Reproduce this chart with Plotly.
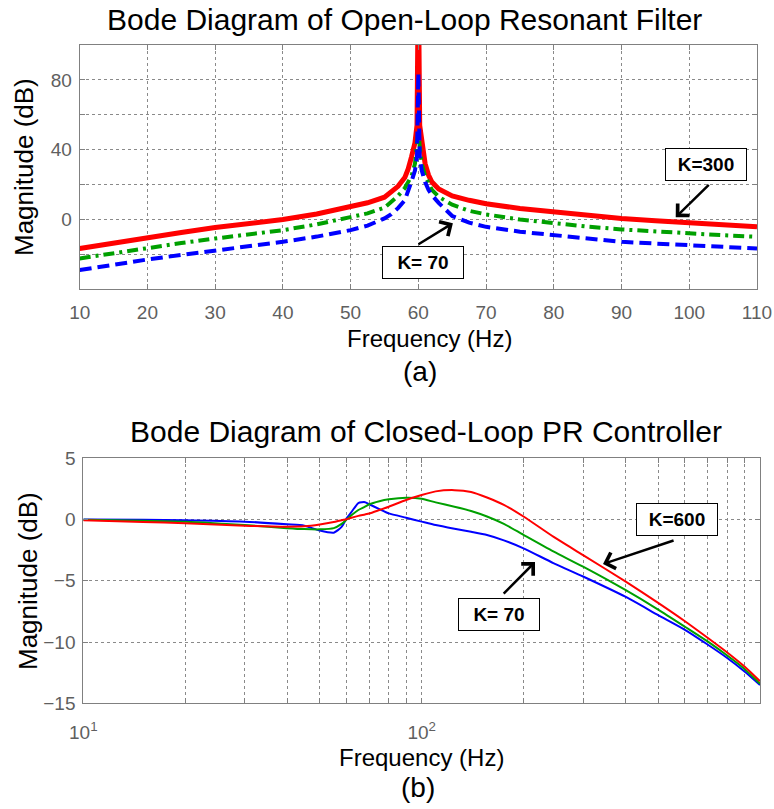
import plotly.graph_objects as go

# ---------------- data: (a) open-loop resonant filter ----------------
freq_a = [10, 15, 20, 25, 30, 35, 40, 45, 50, 52.5, 55, 56, 57, 58, 58.5, 59, 59.5, 59.8, 60,
          60.2, 60.5, 61, 61.5, 62, 63, 65, 67.5, 70, 75, 80, 85, 90, 95, 100, 105, 110]
mag_a_k300 = [-16.6, -13.3, -10.3, -7.4, -4.6, -2.3, 0.0, 3.2, 7.2, 9.6, 12.8, 15.5, 19.0, 24.0,
              29.0, 36.0, 44.0, 54.0, 140.0, 54.0, 44.0, 32.0, 25.5, 21.5, 17.5, 13.5, 11.0,
              9.0, 6.3, 4.3, 2.3, 0.6, -0.7, -1.9, -3.1, -4.2]
mag_a_kmid = [-22.3, -19.2, -16.2, -13.5, -10.9, -8.5, -6.1, -2.8, 1.1, 3.5, 6.8, 9.8, 13.5,
              18.0, 21.0, 25.0, 32.0, 42.0, 51.0, 42.0, 32.0, 25.0, 20.5, 17.0, 13.0, 8.5,
              5.0, 2.9, 0.0, -2.3, -4.1, -5.7, -6.9, -8.0, -9.0, -9.9]
mag_a_k70 = [-29.0, -25.8, -22.9, -20.3, -17.9, -15.4, -12.8, -9.8, -6.1, -3.5, 0.6, 3.0, 6.5,
             11.0, 16.0, 22.0, 28.0, 36.0, 84.0, 36.0, 28.0, 21.5, 17.0, 14.0, 9.5, 2.0,
             -1.8, -4.2, -7.0, -9.0, -11.0, -12.8, -13.8, -14.7, -15.7, -16.6]

# ---------------- data: (b) closed-loop PR controller ----------------
freq_b = [10, 15, 20, 30, 40, 45, 50, 55, 58, 60, 62, 65, 68, 70, 75, 80, 90, 100, 110,
          125, 140, 156, 175, 200, 245, 300, 400, 500, 600, 700, 800, 900, 1000]
mag_b_k70 = [0.0, -0.02, -0.05, -0.17, -0.39, -0.5, -0.9, -1.07, -0.6, 0.1, 0.6, 1.35, 1.42,
             1.25, 0.85, 0.5, 0.15, -0.17, -0.45, -0.75, -1.0, -1.26, -1.7, -2.35, -3.55,
             -4.65, -6.3, -7.8, -9.0, -10.2, -11.3, -12.4, -13.5]
mag_b_kmid = [-0.02, -0.1, -0.17, -0.44, -0.7, -0.78, -0.8, -0.7, -0.35, 0.0, 0.35, 0.78,
              1.05, 1.25, 1.5, 1.65, 1.78, 1.7, 1.4, 1.05, 0.7, 0.25, -0.35, -1.25, -2.6,
              -3.85, -5.75, -7.35, -8.75, -9.95, -11.1, -12.2, -13.4]
mag_b_k600 = [-0.05, -0.2, -0.3, -0.5, -0.58, -0.55, -0.4, -0.2, -0.05, 0.02, 0.15, 0.3, 0.42,
              0.5, 0.78, 1.05, 1.6, 2.0, 2.3, 2.4, 2.25, 1.8, 1.2, 0.25, -1.4, -2.9, -5.05,
              -6.8, -8.3, -9.65, -10.85, -12.0, -13.2]

# tick labels
xa_ticks = [10, 20, 30, 40, 50, 60, 70, 80, 90, 100, 110]
ya_ticks = [-40, -20, 0, 20, 40, 60, 80, 100]
ya_labels = ['', '', '0', '', '40', '', '80', '']
yb_ticks = [-15, -10, -5, 0, 5]
xb_ticks = [10, 20, 30, 40, 50, 60, 70, 80, 90, 100, 200, 300, 400, 500, 600, 700, 800, 900, 1000]
xb_labels = ['10<sup>1</sup>', '', '', '', '', '', '', '', '', '10<sup>2</sup>',
             '', '', '', '', '', '', '', '', '10<sup>3</sup>']

FONT = "Arial, 'Liberation Sans', Helvetica, sans-serif"
RED, GREEN, BLUE = '#ff0000', '#00a000', '#0000ff'
W, H = 774, 809

fig = go.Figure()

# (a)
fig.add_trace(go.Scatter(x=freq_a, y=mag_a_k300, mode='lines', xaxis='x', yaxis='y',
                         line=dict(color=RED, width=5)))
fig.add_trace(go.Scatter(x=freq_a, y=mag_a_kmid, mode='lines', xaxis='x', yaxis='y',
                         line=dict(color=GREEN, width=4, dash='11px,5px,3px,5px')))
fig.add_trace(go.Scatter(x=freq_a, y=mag_a_k70, mode='lines', xaxis='x', yaxis='y',
                         line=dict(color=BLUE, width=4, dash='12px,6px')))
# (b)
fig.add_trace(go.Scatter(x=freq_b, y=mag_b_k70, mode='lines', xaxis='x2', yaxis='y2',
                         line=dict(color=BLUE, width=2, shape='spline', smoothing=0.6)))
fig.add_trace(go.Scatter(x=freq_b, y=mag_b_kmid, mode='lines', xaxis='x2', yaxis='y2',
                         line=dict(color=GREEN, width=2, shape='spline', smoothing=0.6)))
fig.add_trace(go.Scatter(x=freq_b, y=mag_b_k600, mode='lines', xaxis='x2', yaxis='y2',
                         line=dict(color=RED, width=2, shape='spline', smoothing=0.6)))

axis_common = dict(showline=True, linecolor='#808080', linewidth=1, mirror='ticks',
                   ticks='inside', ticklen=5, tickcolor='#808080', automargin=False,
                   showgrid=True, gridcolor='#8a8a8a', griddash='dot', gridwidth=1,
                   zeroline=False, tickfont=dict(family=FONT, size=19, color='#5f5f5f'))

# pixel geometry of axes
a_left, a_right, a_top, a_bot = 79.7, 757, 45, 289.3
b_left, b_right, b_top, b_bot = 83.3, 760, 458.3, 703.3

fig.update_layout(
    width=W, height=H, margin=dict(l=0, r=0, t=0, b=0, autoexpand=False),
    paper_bgcolor='white', plot_bgcolor='white', showlegend=False,
    xaxis=dict(domain=[a_left / W, a_right / W], anchor='y', range=[10, 110],
               tickvals=xa_ticks, ticklabelstandoff=6, **axis_common),
    yaxis=dict(domain=[1 - a_bot / H, 1 - a_top / H], anchor='x', range=[-40, 100],
               tickvals=ya_ticks, ticktext=ya_labels, ticklabelstandoff=3, **axis_common),
    xaxis2=dict(domain=[b_left / W, b_right / W], anchor='y2', type='log', range=[1, 3],
                tickvals=xb_ticks, ticktext=xb_labels, ticklabelstandoff=12, **axis_common),
    yaxis2=dict(domain=[1 - b_bot / H, 1 - b_top / H], anchor='x2', range=[-15, 5],
                tickvals=yb_ticks, ticklabelstandoff=3, **axis_common),
)


def ptext(text, px, py, size, angle=0):
    fig.add_annotation(text=text, x=px / W, y=1 - py / H, xref='paper', yref='paper',
                       xanchor='center', yanchor='middle', showarrow=False, textangle=angle,
                       font=dict(family=FONT, size=size, color='black'))


ptext('Bode Diagram of Open-Loop Resonant Filter', 404, 19, 30)
ptext('Bode Diagram of Closed-Loop PR Controller', 426, 431, 30)
ptext('Frequency (Hz)', 429, 338, 24)
ptext('(a)', 420, 371, 28)
ptext('Frequency (Hz)', 421, 757, 24)
ptext('(b)', 418, 787, 28)
ptext('Magnitude (dB)', 24, 167, 26, -90)
ptext('Magnitude (dB)', 28, 581, 26, -90)


def box(text, x, y, xr, yr):
    fig.add_annotation(text='<b>' + text + '</b>', x=x, y=y, xref=xr, yref=yr,
                       showarrow=False, xanchor='center', yanchor='middle',
                       font=dict(family=FONT, size=19, color='black'),
                       bgcolor='white', bordercolor='black', borderwidth=1,
                       width=78, height=29)


def arrow(xt, yt, xs, ys, xr, yr):
    fig.add_annotation(text='', x=xt, y=yt, ax=xs, ay=ys, xref=xr, yref=yr,
                       axref=xr, ayref=yr, showarrow=True, arrowhead=4, arrowsize=1.3,
                       arrowwidth=2.5, arrowcolor='black')


# (a) annotations
box('K=300', 102.5, 31.6, 'x', 'y')
arrow(98.0, 1.3, 103.1, 20.7, 'x', 'y')
box('K= 70', 60.7, -24.7, 'x', 'y')
arrow(65.1, -2.1, 59.8, -14.7, 'x', 'y')
# (b) annotations (log axis -> log10 x positions)
box('K=600', 2.755, 0.0, 'x2', 'y2')
arrow(2.536, -3.63, 2.749, -1.67, 'x2', 'y2')
box('K= 70', 2.230, -7.75, 'x2', 'y2')
arrow(2.335, -3.47, 2.238, -6.16, 'x2', 'y2')

fig.write_html('out.html')
